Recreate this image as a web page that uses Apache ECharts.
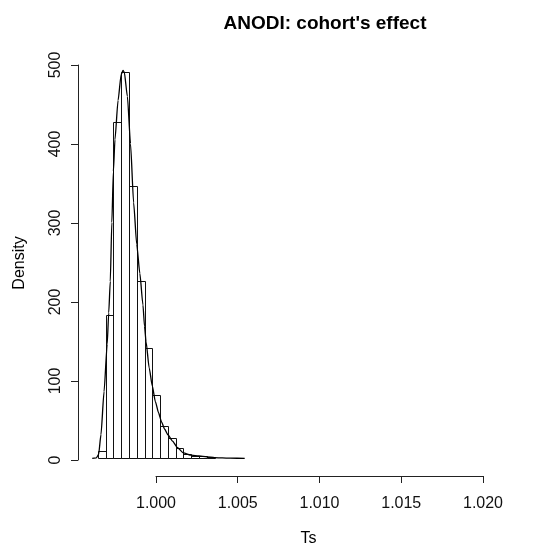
<!DOCTYPE html>
<html>
<head>
<meta charset="utf-8">
<script src="https://cdn.jsdelivr.net/npm/echarts@6/dist/echarts.min.js"></script>
<style>
html,body{margin:0;padding:0;background:#fff;}
#chart{width:539px;height:552px;}
</style>
</head>
<body>
<div id="chart"></div>
<script>
// Histogram bins (left edge, right edge) and densities
var binLeft  = [0.9965, 0.9970, 0.9975, 0.9980, 0.9985, 0.9990, 0.9995, 1.0000, 1.0005, 1.0010, 1.0015, 1.0020, 1.0025, 1.0030, 1.0035];
var binRight = [0.9970, 0.9975, 0.9980, 0.9985, 0.9990, 0.9995, 1.0000, 1.0005, 1.0010, 1.0015, 1.0020, 1.0025, 1.0030, 1.0035, 1.0040];
var binDensity = [9, 182, 428, 491, 346, 225, 140, 80, 41, 26, 13, 6, 3.5, 2.5, 1.5];

// Kernel density curve
var densX = [0.99614, 0.9964, 0.99655, 0.9967, 0.9969, 0.9971, 0.9972, 0.9973, 0.9974, 0.9975, 0.9976, 0.9978, 0.9980, 0.99812, 0.9982, 0.9984, 0.9986, 0.9988, 0.9990, 0.9992, 0.9994, 0.9995, 0.9996, 0.9998, 1.0000, 1.0002, 1.0004, 1.0006, 1.0008, 1.0010, 1.0013, 1.0016, 1.0020, 1.0025, 1.0030, 1.0035, 1.0040, 1.0045, 1.0050, 1.00594];
var densY = [0, 0.5, 5, 30, 85, 145, 185, 225, 300, 365, 405, 455, 488, 493, 491, 460, 400, 325, 272, 235, 195, 168, 148, 115, 92, 72, 58, 46, 37, 30, 22, 14, 7, 4, 3, 2, 1, 0.5, 0.2, 0];

// Tick labels
var xTicks = [1.000, 1.005, 1.010, 1.015, 1.020];
var yTicks = [0, 100, 200, 300, 400, 500];

var chart = echarts.init(document.getElementById('chart'), null, {renderer: 'canvas'});

var densData = densX.map(function (x, i) { return [x, densY[i]]; });
var histData = binLeft.map(function (l, i) { return [l, binRight[i], binDensity[i]]; });

var fontFam = 'Liberation Sans, Arial, sans-serif';

var option = {
  backgroundColor: '#ffffff',
  animation: false,
  title: {
    text: "ANODI: cohort's effect",
    left: 320,
    top: 9,
    textAlign: 'center',
    textStyle: {fontFamily: fontFam, fontSize: 19, fontWeight: 'bold', color: '#000'}
  },
  grid: [
    {left: 78, top: 52, width: 484, height: 424},      // plot region
    {left: 156, top: 52, width: 327, height: 424},     // x axis (ticks 1.000 - 1.020)
    {left: 78, top: 65, width: 484, height: 395}       // y axis (ticks 0 - 500)
  ],
  xAxis: [
    {gridIndex: 0, type: 'value', min: 0.995225, max: 1.024855,
     axisLine: {show: false}, axisTick: {show: false}, axisLabel: {show: false}, splitLine: {show: false},
     name: 'Ts', nameLocation: 'middle', nameGap: 57,
     nameTextStyle: {fontFamily: fontFam, fontSize: 16, color: '#000'}},
    {gridIndex: 1, type: 'value', min: xTicks[0], max: xTicks[xTicks.length - 1], interval: 0.005,
     position: 'bottom',
     axisLine: {show: true, lineStyle: {color: '#222', width: 1}},
     axisTick: {show: true, length: 7, inside: false, lineStyle: {color: '#222'}},
     axisLabel: {show: true, margin: 20, fontFamily: fontFam, fontSize: 16, color: '#111',
                 formatter: function (v) { return v.toFixed(3); }},
     splitLine: {show: false}},
    {gridIndex: 2, type: 'value', min: 0, max: 1, show: false}
  ],
  yAxis: [
    {gridIndex: 0, type: 'value', min: -19.87, max: 516.5,
     axisLine: {show: false}, axisTick: {show: false}, axisLabel: {show: false}, splitLine: {show: false},
     name: 'Density', nameLocation: 'middle', nameGap: 50,
     nameTextStyle: {fontFamily: fontFam, fontSize: 16, color: '#000'}},
    {gridIndex: 1, type: 'value', min: 0, max: 1, show: false},
    {gridIndex: 2, type: 'value', min: yTicks[0], max: yTicks[yTicks.length - 1], interval: 100,
     position: 'left',
     axisLine: {show: true, lineStyle: {color: '#222', width: 1}},
     axisTick: {show: true, length: 7, inside: false, lineStyle: {color: '#222'}},
     axisLabel: {show: true, rotate: 90, margin: 14, fontFamily: fontFam, fontSize: 16, color: '#111'},
     splitLine: {show: false}}
  ],
  series: [
    {
      type: 'custom',
      xAxisIndex: 0, yAxisIndex: 0,
      data: histData,
      renderItem: function (params, api) {
        var p0 = api.coord([api.value(0), api.value(2)]);
        var p1 = api.coord([api.value(1), 0]);
        return {
          type: 'rect',
          shape: {x: Math.round(p0[0]) + 0.5, y: Math.round(p0[1]) + 0.5,
                  width: Math.round(p1[0]) - Math.round(p0[0]),
                  height: Math.round(p1[1]) - Math.round(p0[1])},
          style: {fill: 'rgba(255,255,255,0)', stroke: '#111', lineWidth: 1}
        };
      },
      z: 2
    },
    {
      type: 'line',
      xAxisIndex: 0, yAxisIndex: 0,
      data: densData,
      showSymbol: false,
      smooth: 0.2,
      smoothMonotone: 'x',
      lineStyle: {color: '#000', width: 1.3},
      z: 3
    }
  ]
};
chart.setOption(option);
</script>
</body>
</html>
